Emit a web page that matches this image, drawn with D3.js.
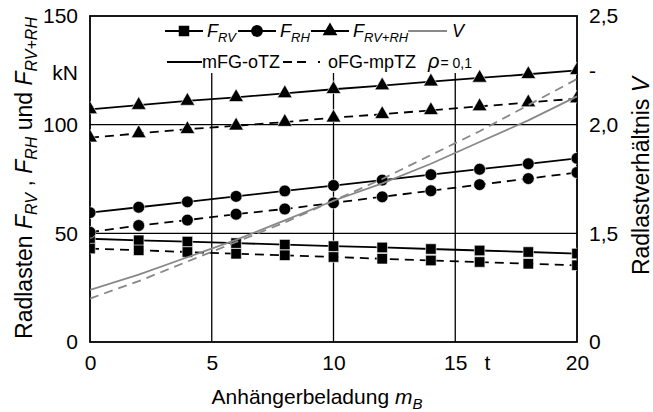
<!DOCTYPE html>
<html>
<head>
<meta charset="utf-8">
<script src="https://cdn.jsdelivr.net/npm/d3@7"></script>
<style>
  body { margin: 0; background: #fff; }
  text { font-family: "Liberation Sans", Arial, sans-serif; fill: #000; }
</style>
</head>
<body>
<svg id="chart" width="653" height="412"></svg>
<script>
// data
const mB = [0, 2, 4, 6, 8, 10, 12, 14, 16, 18, 20];
const fRV_mFG = [47.5, 46.8, 46.2, 45.5, 44.8, 44.1, 43.5, 42.8, 42.1, 41.4, 40.7];
const fRV_oFG = [43.0, 42.2, 41.4, 40.6, 39.9, 39.1, 38.3, 37.5, 36.8, 36.0, 35.3];
const fRH_mFG = [59.5, 62.0, 64.5, 67.0, 69.5, 72.0, 74.5, 77.0, 79.5, 82.0, 84.5];
const fRH_oFG = [50.5, 53.6, 56.1, 58.8, 61.2, 64.0, 66.8, 69.6, 72.4, 75.2, 78.0];
const fSum_mFG = [107.0, 109.0, 110.9, 112.6, 114.4, 116.3, 118.0, 119.8, 121.5, 123.2, 125.0];
const fSum_oFG = [94.0, 96.0, 97.9, 99.5, 101.2, 103.2, 104.8, 106.6, 108.4, 110.2, 112.0];
const v_mFG = [1.24, 1.31, 1.39, 1.47, 1.56, 1.65, 1.73, 1.82, 1.92, 2.02, 2.13];
const v_oFG = [1.20, 1.28, 1.37, 1.46, 1.55, 1.65, 1.75, 1.86, 1.97, 2.09, 2.21];

const xTicks = [0, 5, 10, 15, 16.3, 20];
const xTickLabels = ["0", "5", "10", "15", "t", "20"];
const yTicks = [0, 50, 100, 124, 150];
const yTickLabels = ["0", "50", "100", "kN", "150"];
const vTicks = [1, 1.5, 2, 2.25, 2.5];
const vTickLabels = ["0", "1,5", "2,0", "-", "2,5"];
const gridX = [5, 10, 15];
const gridY = [50, 100];

const svg = d3.select("#chart");
const pLeft = 90, pRight = 577, pTop = 16, pBottom = 342;
const legendBottom = 73;

const x = d3.scaleLinear().domain([0, 20]).range([pLeft, pRight]);
const y = d3.scaleLinear().domain([0, 150]).range([pBottom, pTop]);
const yV = d3.scaleLinear().domain([1, 2.5]).range([pBottom, pTop]);

svg.append("clipPath").attr("id", "plotclip")
  .append("rect").attr("x", pLeft).attr("y", pTop)
  .attr("width", pRight - pLeft).attr("height", pBottom - pTop);

// grid
svg.append("g").selectAll("line").data(gridX).join("line")
  .attr("x1", d => x(d)).attr("x2", d => x(d))
  .attr("y1", legendBottom).attr("y2", pBottom)
  .attr("stroke", "#000").attr("stroke-width", 1.3);
svg.append("g").selectAll("line").data(gridY).join("line")
  .attr("x1", pLeft).attr("x2", pRight)
  .attr("y1", d => y(d)).attr("y2", d => y(d))
  .attr("stroke", "#000").attr("stroke-width", 1.3);

// axes
const fs = 21;
const xAxis = svg.append("g").attr("transform", `translate(0,${pBottom})`)
  .call(d3.axisBottom(x).tickValues(xTicks).tickSize(0).tickPadding(13)
    .tickFormat((d, i) => xTickLabels[i]));
const yAxis = svg.append("g").attr("transform", `translate(${pLeft},0)`)
  .call(d3.axisLeft(y).tickValues(yTicks).tickSize(0).tickPadding(12)
    .tickFormat((d, i) => yTickLabels[i]));
const vAxis = svg.append("g").attr("transform", `translate(${pRight},0)`)
  .call(d3.axisRight(yV).tickValues(vTicks).tickSize(0).tickPadding(12)
    .tickFormat((d, i) => vTickLabels[i]));
[xAxis, yAxis, vAxis].forEach(g => {
  g.select(".domain").remove();
  g.selectAll("text").attr("font-size", fs).attr("font-family", null);
});

// frame
svg.append("rect").attr("x", pLeft).attr("y", pTop)
  .attr("width", pRight - pLeft).attr("height", pBottom - pTop)
  .attr("fill", "none").attr("stroke", "#000").attr("stroke-width", 1.8);

// series
const sqSize = 110, ciSize = 110, trSize = 95;
const series = [
  { vals: fRV_mFG, sym: d3.symbolSquare, size: sqSize, dash: null },
  { vals: fRV_oFG, sym: d3.symbolSquare, size: sqSize, dash: "9,6" },
  { vals: fRH_mFG, sym: d3.symbolCircle, size: ciSize, dash: null },
  { vals: fRH_oFG, sym: d3.symbolCircle, size: ciSize, dash: "9,6" },
  { vals: fSum_mFG, sym: d3.symbolTriangle, size: trSize, dash: null },
  { vals: fSum_oFG, sym: d3.symbolTriangle, size: trSize, dash: "9,6" }
];

const plot = svg.append("g").attr("clip-path", "url(#plotclip)");
const line = d3.line().x(d => x(d[0])).y(d => y(d[1]));

series.forEach(s => {
  const pts = mB.map((m, i) => [m, s.vals[i]]);
  plot.append("path").datum(pts).attr("d", line)
    .attr("fill", "none").attr("stroke", "#000").attr("stroke-width", 1.8)
    .attr("stroke-dasharray", s.dash);
  plot.append("g").selectAll("path").data(pts).join("path")
    .attr("transform", d => `translate(${x(d[0])},${y(d[1])})`)
    .attr("d", d3.symbol(s.sym, s.size))
    .attr("fill", "#000").attr("stroke", "#fff").attr("stroke-width", 0.6);
});

const lineV = d3.line().x(d => x(d[0])).y(d => yV(d[1]));
[[v_mFG, null], [v_oFG, "9,6"]].forEach(([vals, dash]) => {
  plot.append("path").datum(mB.map((m, i) => [m, vals[i]])).attr("d", lineV)
    .attr("fill", "none").attr("stroke", "#888").attr("stroke-width", 1.8)
    .attr("stroke-dasharray", dash);
});

// legend
const lg = svg.append("g").attr("font-size", 18);
function fLabel(g, xp, yp, sub) {
  const t = g.append("text").attr("x", xp).attr("y", yp);
  t.append("tspan").attr("font-style", "italic").text("F");
  t.append("tspan").attr("font-style", "italic").attr("font-size", 13)
    .attr("dy", 5).text(sub);
  return t;
}
const row1 = 31, row2 = 62;
const legItems = [
  { x0: 165, sym: d3.symbolSquare, size: sqSize, sub: "RV" },
  { x0: 238, sym: d3.symbolCircle, size: ciSize, sub: "RH" },
  { x0: 311, sym: d3.symbolTriangle, size: trSize, sub: "RV+RH" }
];
legItems.forEach(it => {
  lg.append("line").attr("x1", it.x0).attr("x2", it.x0 + 38)
    .attr("y1", row1).attr("y2", row1).attr("stroke", "#000").attr("stroke-width", 1.8);
  lg.append("path").attr("transform", `translate(${it.x0 + 19},${row1})`)
    .attr("d", d3.symbol(it.sym, it.size)).attr("fill", "#000");
  fLabel(lg, it.x0 + 42, row1 + 6, it.sub);
});
lg.append("line").attr("x1", 408).attr("x2", 447).attr("y1", row1).attr("y2", row1)
  .attr("stroke", "#888").attr("stroke-width", 1.8);
lg.append("text").attr("x", 452).attr("y", row1 + 6).attr("font-style", "italic").text("V");

lg.append("line").attr("x1", 167).attr("x2", 202).attr("y1", row2).attr("y2", row2)
  .attr("stroke", "#000").attr("stroke-width", 1.8);
lg.append("text").attr("x", 202).attr("y", row2 + 6).text("mFG-oTZ");
lg.append("line").attr("x1", 283).attr("x2", 321).attr("y1", row2).attr("y2", row2)
  .attr("stroke", "#000").attr("stroke-width", 1.8).attr("stroke-dasharray", "9,5,9,12,2,10");
lg.append("text").attr("x", 328).attr("y", row2 + 6).text("oFG-mpTZ");
const rho = lg.append("text").attr("x", 428).attr("y", row2 + 6);
rho.append("tspan").attr("font-style", "italic").attr("font-size", 20).text("ρ");
rho.append("tspan").attr("font-size", 14).attr("dx", 1).text("= 0,1");

// axis titles
const xt = svg.append("text").attr("x", 317).attr("y", 404)
  .attr("text-anchor", "middle").attr("font-size", fs);
xt.append("tspan").text("Anhängerbeladung ");
xt.append("tspan").attr("font-style", "italic").text("m");
xt.append("tspan").attr("font-style", "italic").attr("font-size", 15).attr("dy", 5).text("B");

const tfs = 23;
const yt = svg.append("text").attr("transform", "translate(32,178) rotate(-90)")
  .attr("text-anchor", "middle").attr("font-size", tfs);
yt.append("tspan").text("Radlasten ");
[["RV", " , "], ["RH", " und "], ["RV+RH", ""]].forEach(([sub, after]) => {
  yt.append("tspan").attr("font-style", "italic").text("F");
  yt.append("tspan").attr("font-style", "italic").attr("font-size", 16).attr("dy", 5).text(sub);
  if (after) yt.append("tspan").attr("dy", -5).text(after);
});

const vt = svg.append("text").attr("transform", "translate(649,176) rotate(-90)")
  .attr("text-anchor", "middle").attr("font-size", tfs);
vt.append("tspan").text("Radlastverhältnis ");
vt.append("tspan").attr("font-style", "italic").text("V");
</script>
</body>
</html>
